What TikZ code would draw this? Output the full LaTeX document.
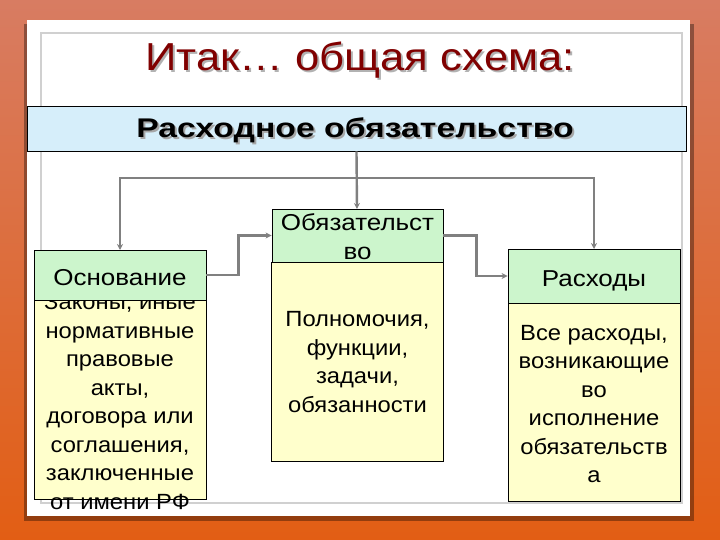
\documentclass[tikz,border=0pt]{standalone}
\usepackage{fontspec}
\setmainfont{Liberation Sans}
\newfontfamily\titlefont[FakeStretch=1.12]{Liberation Sans}
\newfontfamily\bannerfont[FakeStretch=1.25]{Liberation Sans}
\newfontfamily\hdrfont[FakeStretch=1.13]{Liberation Sans}
\newfontfamily\bodyfont[FakeStretch=1.08]{Liberation Sans}
\usepackage{xcolor}
\usetikzlibrary{arrows.meta,positioning,calc}

\definecolor{bgtop}{RGB}{216,124,98}
\definecolor{bgbot}{RGB}{226,94,20}
\definecolor{titlered}{RGB}{128,0,0}
\definecolor{bannerblue}{RGB}{214,238,250}
\definecolor{hdrgreen}{RGB}{204,245,204}
\definecolor{bodyyellow}{RGB}{255,255,204}
\definecolor{framegray}{RGB}{208,208,208}

\begin{document}
\begin{tikzpicture}[x=1pt, y=-1pt, >={Stealth[length=6pt,width=6pt]}]
\tikzset{
  base/.style={draw=black, line width=0.8pt, inner sep=0pt},
  banner/.style={base, fill=bannerblue, minimum width=659pt, minimum height=45pt},
  header/.style={base, fill=hdrgreen, minimum width=172pt},
  body/.style={base, fill=bodyyellow, minimum width=172pt, minimum height=199pt},
  hdrtext/.style={align=center, font=\hdrfont\fontsize{23}{29}\selectfont, inner sep=0pt},
  bodytext/.style={align=center, font=\bodyfont\fontsize{22}{28.5}\selectfont, inner sep=0pt},
  conn/.style={draw=gray, line width=2.4pt},
}
\useasboundingbox (0,0) rectangle (720,540);

% Background and card
\shade[top color=bgtop, bottom color=bgbot] (0,0) rectangle (720,540);
\fill[black, opacity=0.35] (24,24) rectangle (694,521);
\fill[white] (27,20) rectangle (690,516);
\draw[framegray, line width=2.5pt] (41,33) rectangle (682,503);

% Title
\node[gray!60, anchor=base, font=\titlefont\fontsize{39}{44}\selectfont] at (362,73) {Итак… общая схема:};
\node (title) [titlered, anchor=base, font=\titlefont\fontsize{39}{44}\selectfont] at (360,71) {Итак… общая схема:};

% Banner
\node (banner) [banner] at (356.5,128.5) {};
\node[gray!70, anchor=base, font=\bannerfont\bfseries\fontsize{27}{32}\selectfont] at (357,140) {Расходное обязательство};
\node (bannertxt) [anchor=base, font=\bannerfont\bfseries\fontsize{27}{32}\selectfont] at (355,138) {Расходное обязательство};

% Connectors
\coordinate (bar) at (357,178);
\draw[conn, ->] (banner.south) -- (357,209);
\draw[conn, ->] (bar) -| (120,250);
\draw[conn, ->] (bar) -| (594,249);

% Basis
\node (bodyBase) [body] at (120,399.5) {};
\node (txtBase) [bodytext] at (120,402) {Законы, иные\\нормативные\\правовые\\акты,\\договора или\\соглашения,\\заключенные\\от имени РФ};
\node (hdrBase) [header, minimum height=50pt] at (120,275) {};
\node[hdrtext, anchor=base] at (120,285) {Основание};

% Obligation
\node (bodyObl) [body] at (357.5,361.5) {};
\node (txtObl) [bodytext] at (357.5,362) {Полномочия,\\функции,\\задачи,\\обязанности};
\node (hdrObl) [header, minimum width=171pt, minimum height=53pt] at (357.5,235.5) {};
\node (txtHdrObl) [hdrtext] at (357.5,237) {Обязательст\\во};

% Expenses
\node (bodyExp) [body, minimum height=198pt] at (594,402) {};
\node (txtExp) [bodytext] at (594,404) {Все расходы,\\возникающие\\во\\исполнение\\обязательств\\а};
\node (hdrExp) [header, minimum height=54pt] at (594,276) {};
\node[hdrtext, anchor=base] at (594,286) {Расходы};

% Links between boxes
\draw[conn, ->] (hdrBase.east) -- ++(32,0) |- (hdrObl.west);
\draw[conn, ->] (hdrObl.east) -- ++(33,0) |- (hdrExp.west);

\end{tikzpicture}
\end{document}
